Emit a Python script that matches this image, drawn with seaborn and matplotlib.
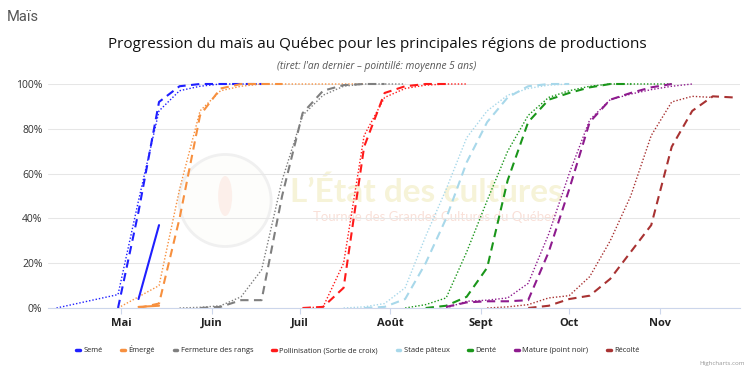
import matplotlib
matplotlib.use("Agg")
import matplotlib.pyplot as plt
import matplotlib.dates as mdates
from matplotlib.lines import Line2D
from matplotlib.patches import Ellipse
import seaborn as sns
import pandas as pd

# Données (pourcentage cumulatif, points hebdomadaires)
# ------
etapes = ['Semé', 'Émergé', 'Fermeture des rangs', 'Pollinisation (Sortie de croix)',
          'Stade pâteux', 'Denté', 'Mature (point noir)', 'Récolté']
couleurs = ['#1f1fff', '#f7903f', '#7f7f7f', '#ff1a1a',
            '#a8d8ea', '#1a961a', '#8e1b8e', '#a83232']

# année en cours (trait plein)
seme_debut = '2023-05-07'
seme_actuel = [4, 37]
emerge_debut = '2023-05-07'
emerge_actuel = [0.5, 1]

# l'an dernier (tiret)
seme_debut_an = '2023-04-30'
seme_an = [0, 43, 92, 99, 100, 100, 100, 100]
emerge_debut_an = '2023-05-07'
emerge_an = [0, 2, 40, 86, 98, 100, 100, 100]
fermeture_debut_an = '2023-05-28'
fermeture_an = [0, 0.5, 3.5, 3.5, 50, 87, 97, 99.5, 100, 100]
pollin_debut_an = '2023-07-02'
pollin_an = [0, 0.5, 9, 72, 96, 99, 100, 100]
pateux_debut_an = '2023-07-23'
pateux_an = [0, 0.5, 4, 20, 40, 65, 83, 94, 99, 100, 100]
dente_debut_an = '2023-08-13'
dente_an = [0, 1, 5, 18, 57, 83, 93, 96, 98.5, 100, 100]
mature_debut_an = '2023-08-20'
mature_an = [0.5, 2.5, 3, 3, 3.5, 25, 53, 83, 93, 96, 98.5, 100]
recolte_debut_an = '2023-09-17'
recolte_an = [0, 1, 4, 5.5, 13, 25, 37, 72, 88, 94.5, 94]

# moyenne 5 ans (pointillé)
seme_debut_moy = '2023-04-09'
seme_moy = [0, 2, 4, 6, 48, 88, 97, 99, 100, 100, 100]
emerge_debut_moy = '2023-04-30'
emerge_moy = [0, 5, 10, 53, 88, 97, 99, 100, 100, 100, 100, 100, 100]
fermeture_debut_moy = '2023-05-21'
fermeture_moy = [0, 0.3, 1, 5, 17, 57, 86, 95, 99, 100, 100, 100]
pollin_debut_moy = '2023-07-02'
pollin_moy = [0, 0.5, 20, 77, 94, 98, 99.5, 100, 100]
pateux_debut_moy = '2023-07-16'
pateux_moy = [0, 0.5, 2, 9, 32, 53, 76, 88, 95, 98, 99.5, 100]
dente_debut_moy = '2023-08-06'
dente_moy = [0, 1.5, 4.5, 25, 48, 70, 86, 94, 97, 99, 100, 100, 100, 100]
mature_debut_moy = '2023-08-20'
mature_moy = [0, 3, 3.5, 4.5, 11, 33, 60, 84, 93, 95.5, 97.5, 99, 100]
recolte_debut_moy = '2023-09-03'
recolte_moy = [0, 0.5, 1.5, 4.5, 5.5, 14, 30, 50, 77, 92, 94.5, 94]

mois = ['2023-05-01', '2023-06-01', '2023-07-01', '2023-08-01',
        '2023-09-01', '2023-10-01', '2023-11-01']
mois_labels = ['Mai', 'Juin', 'Juil', 'Août', 'Sept', 'Oct', 'Nov']
y_ticks = [0, 20, 40, 60, 80, 100]

series_actuel = [(0, seme_debut, seme_actuel), (1, emerge_debut, emerge_actuel)]
series_an = [(0, seme_debut_an, seme_an), (1, emerge_debut_an, emerge_an),
             (2, fermeture_debut_an, fermeture_an), (3, pollin_debut_an, pollin_an),
             (4, pateux_debut_an, pateux_an), (5, dente_debut_an, dente_an),
             (6, mature_debut_an, mature_an), (7, recolte_debut_an, recolte_an)]
series_moy = [(0, seme_debut_moy, seme_moy), (1, emerge_debut_moy, emerge_moy),
              (2, fermeture_debut_moy, fermeture_moy), (3, pollin_debut_moy, pollin_moy),
              (4, pateux_debut_moy, pateux_moy), (5, dente_debut_moy, dente_moy),
              (6, mature_debut_moy, mature_moy), (7, recolte_debut_moy, recolte_moy)]


def serie(debut, valeurs):
    fechas = pd.date_range(debut, periods=len(valeurs), freq='7D')
    return pd.DataFrame({'date': fechas, 'pct': valeurs})


# Graphique
# ------
sns.set_style('white')
plt.rcParams['font.family'] = ['Open Sans', 'DejaVu Sans']

fig = plt.figure(figsize=(7.5, 3.73), dpi=100)
ax = fig.add_axes([48 / 750, 65 / 373, 692 / 750, 224 / 373])

# filigrane (logo pâle)
ax.add_patch(Ellipse((0.256, 0.48), 92 / 692, 92 / 224, transform=ax.transAxes,
                     facecolor='#fdfdfb', edgecolor='#f0f0f0', lw=2, zorder=0))
ax.add_patch(Ellipse((0.256, 0.50), 14 / 692, 40 / 224, transform=ax.transAxes,
                     facecolor='#fcefea', edgecolor='none', zorder=0))
ax.text(0.547, 0.52, 'L\u2019État des cultures', transform=ax.transAxes, ha='center',
        va='center', fontsize=24, fontweight='bold', color='#f6f3d8', zorder=0,
        family=['Lato', 'DejaVu Sans'])
ax.text(0.56, 0.405, 'Tournée des Grandes Cultures du Québec', transform=ax.transAxes,
        ha='center', va='center', fontsize=9.5, color='#f9e0d8', zorder=0,
        family=['Lato', 'DejaVu Sans'])

for i, debut, valeurs in series_moy:
    sns.lineplot(data=serie(debut, valeurs), x='date', y='pct', ax=ax, color=couleurs[i],
                 linewidth=1.0, linestyle=(0, (1, 1.4)), clip_on=False)
for i, debut, valeurs in series_an:
    sns.lineplot(data=serie(debut, valeurs), x='date', y='pct', ax=ax, color=couleurs[i],
                 linewidth=1.5, linestyle=(0, (4, 2.6)), clip_on=False)
for i, debut, valeurs in series_actuel:
    sns.lineplot(data=serie(debut, valeurs), x='date', y='pct', ax=ax, color=couleurs[i],
                 linewidth=1.5, clip_on=False)

# axes
x0 = mdates.date2num(pd.Timestamp('2023-05-01'))
ax.set_xlim(x0 - 24.9, x0 + 211.3)
ax.set_ylim(0, 100)
ax.set_xticks([mdates.date2num(pd.Timestamp(m)) for m in mois])
ax.set_xticklabels(mois_labels, fontweight='bold', fontsize=8, color='#222222')
ax.set_yticks(y_ticks)
ax.set_yticklabels([f'{v}%' for v in y_ticks], fontsize=7.5, color='#333333')
ax.set_xlabel('')
ax.set_ylabel('')
ax.grid(axis='y', color='#e6e6e6', linewidth=0.75)
ax.grid(axis='x', visible=False)
for lado in ['top', 'right', 'left']:
    ax.spines[lado].set_visible(False)
ax.spines['bottom'].set_color('#ccd6eb')
ax.spines['bottom'].set_linewidth(0.8)
ax.tick_params(axis='x', length=4, color='#ccd6eb', pad=3, bottom=True)
ax.tick_params(axis='y', length=0, pad=4)

# titres
fig.text(7 / 750, 1 - 17 / 373, 'Maïs', fontsize=10.5, color='#555555', va='center',
         family=['Roboto', 'DejaVu Sans'])
fig.text(377 / 750, 1 - 44 / 373,
         'Progression du maïs au Québec pour les principales régions de productions',
         fontsize=11, color='#111111', ha='center', va='center')
fig.text(377 / 750, 1 - 67 / 373, '(tiret: l\'an dernier – pointillé: moyenne 5 ans)',
         fontsize=7.3, color='#555555', ha='center', va='center', style='italic')

# légende
poignees = [Line2D([], [], color=c, lw=2.5) for c in couleurs]
fig.legend(poignees, etapes, loc='center', bbox_to_anchor=(358 / 750, 1 - 350 / 373),
           ncol=8, frameon=False, handlelength=0.45, handletextpad=0.5,
           columnspacing=2.5, prop={'family': ['Open Sans', 'DejaVu Sans'], 'size': 5.4})
fig.text(745 / 750, 1 - 363 / 373, 'Highcharts.com', fontsize=4.5, color='#999999',
         ha='right', va='center')

fig.savefig('out.png', dpi=100)
